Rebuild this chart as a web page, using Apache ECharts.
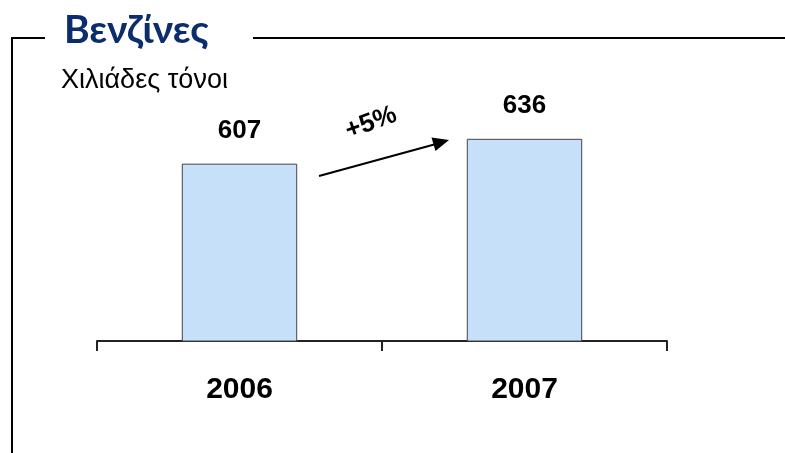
<!DOCTYPE html>
<html>
<head>
<meta charset="utf-8">
<script src="https://cdn.jsdelivr.net/npm/echarts@6/dist/echarts.min.js"></script>
<style>
    html, body { margin: 0; padding: 0; background: #fff; }
    #main { width: 785px; height: 453px; }
</style>
</head>
<body>
<div id="main"></div>
<script>
// data
var years = ['2006', '2007'];
var tonnes = [607, 636];
var growthLabel = '+5%';

var chart = echarts.init(document.getElementById('main'));

chart.setOption({
    animation: false,
    title: [
        {
            text: 'Βενζίνες',
            left: 59,
            top: 6,
            textStyle: {fontFamily: 'Lato', fontWeight: 'bold', fontSize: 39, color: '#0b2d6b'}
        },
        {
            text: 'Χιλιάδες τόνοι',
            left: 56,
            top: 62,
            textStyle: {fontFamily: 'Liberation Sans', fontWeight: 'normal', fontSize: 27, color: '#000'}
        }
    ],
    grid: {left: 97, right: 118, top: 84, bottom: 112},
    xAxis: {
        type: 'category',
        data: years,
        boundaryGap: true,
        axisLine: {lineStyle: {color: '#222', width: 2}},
        axisTick: {show: true, length: 10, inside: false, lineStyle: {color: '#222', width: 2}},
        axisLabel: {
            margin: 34,
            fontFamily: 'Liberation Sans',
            fontWeight: 'bold',
            fontSize: 30,
            color: '#000'
        }
    },
    yAxis: {
        type: 'value',
        min: 400,
        max: 700,
        show: false,
        splitLine: {show: false}
    },
    series: [{
        type: 'bar',
        data: tonnes,
        barWidth: '40.5%',
        itemStyle: {color: '#c7e0f9', borderColor: '#444', borderWidth: 1},
        label: {
            show: true,
            position: 'top',
            distance: 20,
            fontFamily: 'Liberation Sans',
            fontWeight: 'bold',
            fontSize: 26,
            color: '#000'
        }
    }],
    graphic: [
        // frame around the chart
        {type: 'polyline', shape: {points: [[45, 38], [12, 38], [12, 453]]}, style: {stroke: '#000', lineWidth: 2, fill: null}},
        {type: 'line', shape: {x1: 253, y1: 38, x2: 785, y2: 38}, style: {stroke: '#000', lineWidth: 2}},
        // growth arrow
        {type: 'line', shape: {x1: 319, y1: 176, x2: 436, y2: 144}, style: {stroke: '#000', lineWidth: 2}},
        {type: 'polygon', shape: {points: [[449, 140], [431.5, 137.5], [435.5, 151]]}, style: {fill: '#000'}},
        {
            type: 'text',
            x: 371, y: 123,
            rotation: 20 * Math.PI / 180,
            style: {
                text: growthLabel,
                fontFamily: 'Liberation Sans',
                fontWeight: 'bold',
                fontSize: 26,
                fill: '#000',
                align: 'center',
                verticalAlign: 'middle'
            }
        }
    ]
});
</script>
</body>
</html>
